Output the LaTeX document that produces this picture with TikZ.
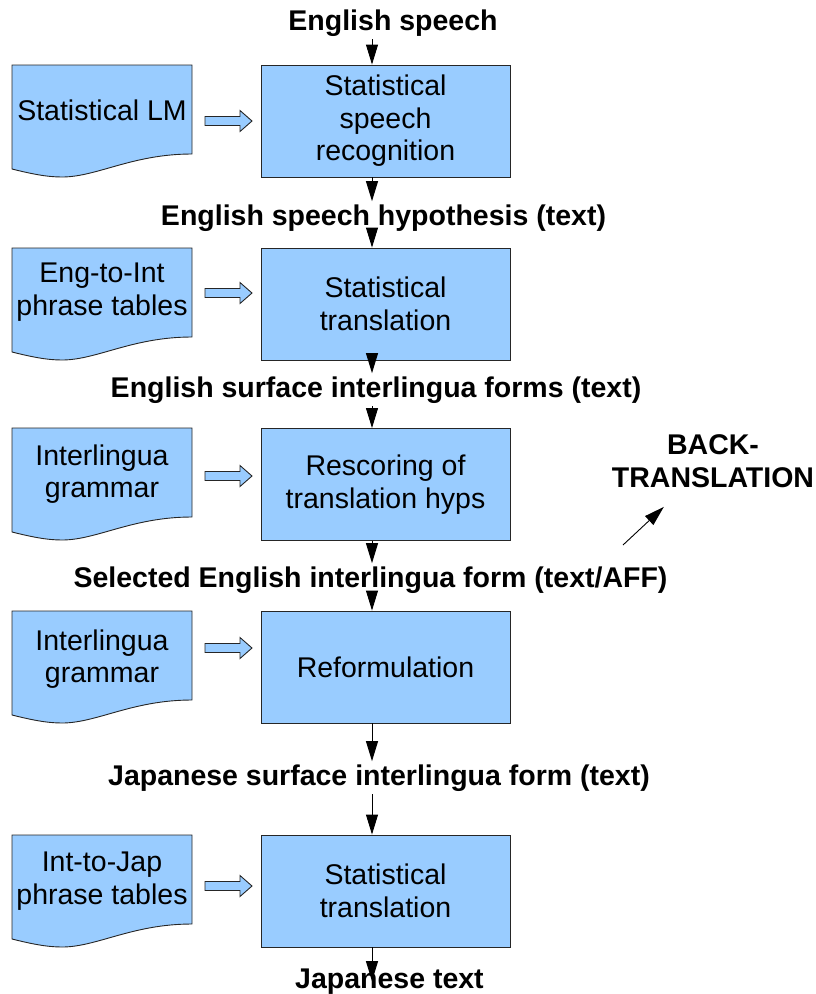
\documentclass[tikz,border=0pt]{standalone}
\usepackage{fontspec}
\setmainfont{Liberation Sans}
\usepackage{tikz}
\usetikzlibrary{calc}
\usetikzlibrary{arrows.meta}
\definecolor{boxblue}{HTML}{99CCFF}
% document outline with wavy bottom, #1 = top edge
\newcommand{\docframe}[1]{%
	\filldraw[docline] (12,#1) -- (192,#1) -- (192,#1+89)
	.. controls (132,#1+89) and (97,#1+112) .. (62,#1+112)
	.. controls (47,#1+112) and (32,#1+109) .. (12,#1+104) -- cycle;}

\begin{document}
\begin{tikzpicture}[x=1pt,y=-1pt,>={Triangle[length=20pt,width=12pt]},
		font=\fontsize{28.5}{32.5}\selectfont,
		stage/.style={rectangle,draw=black!85,fill=boxblue,line width=0.9pt,minimum width=249pt,minimum height=112pt,align=center,inner sep=0pt},
		doctext/.style={align=center,inner sep=0pt},
		docline/.style={draw=black!85,fill=boxblue,line width=0.9pt},
		flow/.style={font=\fontsize{28.5}{32.5}\selectfont\bfseries,inner sep=3pt,anchor=base},
		link/.style={->,line width=0.9pt},
		blockarrow/.pic={\filldraw[docline] (0,-4.5) -- (35,-4.5) -- (35,-10.5) -- (47,0) -- (35,10.5) -- (35,4.5) -- (0,4.5) -- cycle;}]
		\useasboundingbox (0,0) rectangle (815,994);
		\coordinate (spine) at (372,0);
		
		\node[stage]  (srec)    at (385.5,121)   {Statistical\\speech\\recognition};
		\node[stage]  (smt1)    at (385.5,304)   {Statistical\\translation};
		\node[stage]  (rescore) at (385.5,484.5) {Rescoring of\\translation hyps};
		\node[stage]  (reform)  at (385.5,667)   {Reformulation};
		\node[stage]  (smt2)    at (385.5,891)   {Statistical\\translation};
		
		\docframe{65}  \node[doctext] (lm)     at (102,110) {Statistical LM};
		\docframe{248} \node[doctext] (engint) at (102,292) {Eng-to-Int\\phrase tables};
		\docframe{428} \node[doctext] (gram1)  at (102,474) {Interlingua\\grammar};
		\docframe{611} \node[doctext] (gram2)  at (102,659) {Interlingua\\grammar};
		\docframe{835} \node[doctext] (intjap) at (102,881) {Int-to-Jap\\phrase tables};
		
		\pic at (205,121) {blockarrow};
		\pic at (205,293) {blockarrow};
		\pic at (205,476) {blockarrow};
		\pic at (205,648) {blockarrow};
		\pic at (205,886) {blockarrow};
		
		\node[flow] (speech) at (393,30)    {English speech};
		\node[flow] (hyp)    at (383.5,225) {English speech hypothesis (text)};
		\node[flow] (surf)   at (376,397)   {English surface interlingua forms (text)};
		\node[flow] (sel)    at (370.5,587) {Selected English interlingua form (text/AFF)};
		\node[flow] (jsurf)  at (379,785)   {Japanese surface interlingua form (text)};
		\node[flow] (jtext)  at (389.5,988) {Japanese text};
		
		\node[flow,align=center,anchor=center] (back) at (713,461) {BACK-\\TRANSLATION};
		\coordinate (bttail) at (623,545);
		
		\path[link]
		(speech.south -| spine) edge (srec.north -| spine)
		(srec.south -| spine) edge (hyp.north -| spine)
		(hyp.south -| spine) edge (smt1.north -| spine)
		(smt1.south -| spine) edge (surf.north -| spine)
		(surf.south -| spine) edge (rescore.north -| spine)
		(rescore.south -| spine) edge (sel.north -| spine)
		(sel.south -| spine) edge (reform.north -| spine)
		(reform.south -| spine) edge (jsurf.north -| spine)
		(jsurf.south -| spine) edge (smt2.north -| spine)
		(smt2.south -| spine) edge (jtext.center -| spine)
		(bttail) edge[shorten >=24pt] (back);
\end{tikzpicture}
\end{document}
